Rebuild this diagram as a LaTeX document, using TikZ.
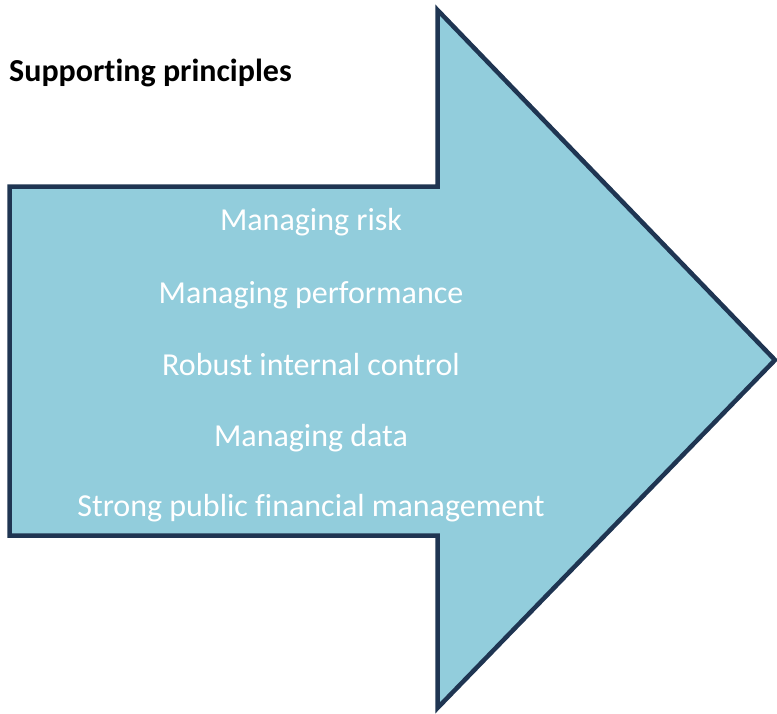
\documentclass[tikz,border=0pt]{standalone}
\usepackage{fontspec}
\setmainfont[Ligatures={NoCommon,NoContextual}]{Carlito}
\definecolor{arrowfill}{HTML}{92CDDC}
\definecolor{arrowline}{HTML}{1F3552}
\begin{document}
\begin{tikzpicture}[x=1pt,y=-1pt,
  item/.style={text=white,font=\fontsize{32}{38}\selectfont,anchor=center,inner sep=0pt},
  title/.style={font=\bfseries\fontsize{32}{38}\selectfont,anchor=west,inner sep=0pt}]
\useasboundingbox (0,0) rectangle (777,713);
\draw[line width=4.5pt,draw=arrowline,fill=arrowfill,line join=miter]
  (9.5,186.5) -- (437.5,186.5) -- (437.5,10) -- (775,360) -- (437.5,708) -- (437.5,535.5) -- (9.5,535.5) -- cycle;
\node[title] (t) at (9,73) {Supporting principles};
\node[item] (a) at (311,222) {Managing risk};
\node[item] (b) at (311,295) {Managing performance};
\node[item] (c) at (311,365) {Robust internal control};
\node[item] (d) at (311,438) {Managing data};
\node[item] (e) at (311,508) {Strong public financial management};
\end{tikzpicture}
\end{document}
